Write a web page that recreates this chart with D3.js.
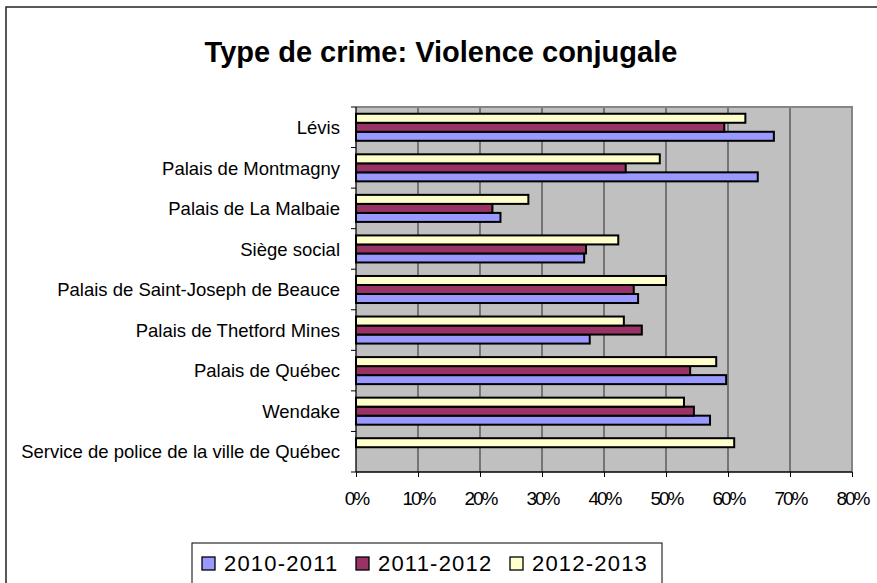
<!DOCTYPE html>
<html>
<head>
<meta charset="utf-8">
<script src="https://cdn.jsdelivr.net/npm/d3@7"></script>
<style>
  body { margin: 0; background: #fff; }
  svg { display: block; font-family: "Liberation Sans", Arial, sans-serif; }
</style>
</head>
<body>
<div id="chart"></div>
<script>
var categories = [
  "Lévis",
  "Palais de Montmagny",
  "Palais de La Malbaie",
  "Siège social",
  "Palais de Saint-Joseph de Beauce",
  "Palais de Thetford Mines",
  "Palais de Québec",
  "Wendake",
  "Service de police de la ville de Québec"
];
var seriesNames = ["2010-2011", "2011-2012", "2012-2013"];
var values2010 = [0.674, 0.648, 0.233, 0.368, 0.455, 0.377, 0.597, 0.571, null];
var values2011 = [0.594, 0.435, 0.220, 0.371, 0.448, 0.461, 0.539, 0.545, null];
var values2012 = [0.628, 0.490, 0.278, 0.423, 0.500, 0.432, 0.581, 0.529, 0.610];
var xTicks = [0, 0.1, 0.2, 0.3, 0.4, 0.5, 0.6, 0.7, 0.8];
var colors = ["#9999ff", "#993366", "#ffffcc"];

var seriesValues = [values2010, values2011, values2012];

var width = 877, height = 583;
var plot = { left: 356, right: 852, top: 107, bottom: 472 };

var svg = d3.select("#chart").append("svg")
  .attr("width", width)
  .attr("height", height);

// chart frame (runs off the right and bottom of the picture)
svg.append("rect")
  .attr("x", 6).attr("y", 7)
  .attr("width", 900).attr("height", 600)
  .attr("fill", "#fff")
  .attr("stroke", "#222")
  .attr("stroke-width", 1.5);

svg.append("text")
  .attr("x", 441).attr("y", 62)
  .attr("text-anchor", "middle")
  .attr("font-size", 29)
  .attr("font-weight", "bold")
  .text("Type de crime: Violence conjugale");

var x = d3.scaleLinear().domain([0, 0.8]).range([plot.left, plot.right]);
var y0 = d3.scaleBand().domain(categories).range([plot.top, plot.bottom]);
var bw = y0.bandwidth();
// top to bottom inside a group: 2012-2013, 2011-2012, 2010-2011
var y1 = d3.scaleBand().domain([2, 1, 0]).range([bw / 6, bw - bw / 6]);

svg.append("rect")
  .attr("x", plot.left).attr("y", plot.top)
  .attr("width", plot.right - plot.left)
  .attr("height", plot.bottom - plot.top)
  .attr("fill", "#c0c0c0");

svg.append("g")
  .selectAll("line")
  .data(xTicks.slice(1, -1))
  .enter().append("line")
  .attr("x1", function (d) { return x(d); })
  .attr("x2", function (d) { return x(d); })
  .attr("y1", plot.top).attr("y2", plot.bottom)
  .attr("stroke", "#555")
  .attr("stroke-width", 1.4);

// plot area border (top + right)
svg.append("path")
  .attr("d", "M" + plot.left + "," + plot.top + "H" + plot.right + "V" + plot.bottom)
  .attr("fill", "none")
  .attr("stroke", "#858585")
  .attr("stroke-width", 2);

var rows = [];
categories.forEach(function (c, i) {
  seriesValues.forEach(function (vals, s) {
    if (vals[i] != null) rows.push({ cat: c, s: s, v: vals[i] });
  });
});

svg.append("g")
  .selectAll("rect")
  .data(rows)
  .enter().append("rect")
  .attr("x", x(0))
  .attr("y", function (d) { return y0(d.cat) + y1(d.s); })
  .attr("width", function (d) { return x(d.v) - x(0); })
  .attr("height", y1.bandwidth())
  .attr("fill", function (d) { return colors[d.s]; })
  .attr("stroke", "#000")
  .attr("stroke-width", 2);

var yAxis = svg.append("g")
  .attr("transform", "translate(" + plot.left + ",0)")
  .call(d3.axisLeft(y0).tickSize(5).tickPadding(11).tickFormat(function (d) { return d; }));
yAxis.selectAll(".tick line").attr("transform", "translate(0," + (-bw / 2) + ")");
yAxis.append("line")
  .attr("x1", -5).attr("x2", 0)
  .attr("y1", plot.bottom).attr("y2", plot.bottom)
  .attr("stroke", "#000");
yAxis.select(".domain").attr("d", "M0," + plot.top + "V" + plot.bottom).attr("stroke-width", 1.3);
yAxis.selectAll(".tick text")
  .attr("font-size", 18.5)
  .attr("font-family", "Liberation Sans, Arial, sans-serif")
  .attr("fill", "#000")
  .attr("dy", "0.36em");

var xAxis = svg.append("g")
  .attr("transform", "translate(0," + plot.bottom + ")")
  .call(d3.axisBottom(x).tickValues(xTicks).tickFormat(d3.format(".0%")).tickSize(5).tickPadding(15));
xAxis.select(".domain").attr("d", "M" + plot.left + ",0H" + plot.right).attr("stroke-width", 1.3);
xAxis.selectAll(".tick text")
  .attr("font-size", 19)
  .attr("font-family", "Liberation Sans, Arial, sans-serif")
  .attr("letter-spacing", -2)
  .attr("fill", "#000");

// legend
var legend = svg.append("g");
legend.append("rect")
  .attr("x", 192).attr("y", 543)
  .attr("width", 470).attr("height", 60)
  .attr("fill", "#fff")
  .attr("stroke", "#000")
  .attr("stroke-width", 1);

var legendX = [202, 356, 510];
var item = legend.selectAll("g.item")
  .data(seriesNames)
  .enter().append("g")
  .attr("class", "item")
  .attr("transform", function (d, i) { return "translate(" + legendX[i] + ",557)"; });
item.append("rect")
  .attr("width", 13).attr("height", 13)
  .attr("fill", function (d, i) { return colors[i]; })
  .attr("stroke", "#000")
  .attr("stroke-width", 1.3);
item.append("text")
  .attr("x", 22).attr("y", 14)
  .attr("font-size", 22)
  .attr("letter-spacing", 1.2)
  .text(function (d) { return d; });
</script>
</body>
</html>
